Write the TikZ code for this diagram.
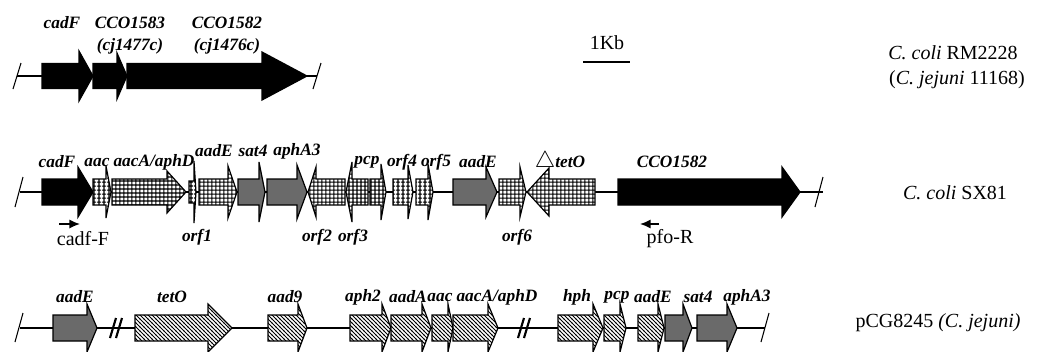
\documentclass[tikz,border=0pt]{standalone}
\usepackage{fontspec}
\setmainfont{Liberation Serif}
\usetikzlibrary{patterns.meta,arrows.meta}
\definecolor{ggray}{RGB}{106,106,106}
\tikzdeclarepattern{
  name=cgrid,
  type=uncolored,
  bounding box={(0pt,0pt) and (3.3pt,3.3pt)},
  tile size={(3.3pt,3.3pt)},
  code={\draw[line width=0.9pt] (0pt,1.65pt) -- (3.3pt,1.65pt) (1.65pt,0pt) -- (1.65pt,3.3pt);}
}
\tikzdeclarepattern{
  name=chatch,
  type=uncolored,
  bounding box={(-0.5pt,-0.5pt) and (3.5pt,3.5pt)},
  tile size={(3pt,3pt)},
  code={\draw[line width=0.75pt] (-0.5pt,3.5pt) -- (3.5pt,-0.5pt);}
}
% x0, head base, tip, y, body half-height, head half-height, style
\newcommand{\gene}[7]{%
  \draw[#7] (#1,{#4-#5}) -- (#2,{#4-#5}) -- (#2,{#4-#6}) -- (#3,#4) -- (#2,{#4+#6}) -- (#2,{#4+#5}) -- (#1,{#4+#5}) -- cycle;}
\begin{document}
\begin{tikzpicture}[x=0.75pt,y=-0.75pt,
  bb/.style={line width=1.7pt},
  cut/.style={line width=0.8pt},
  brk/.style={line width=1.6pt},
  gk/.style={draw=black,fill=black,line width=0.9pt},
  gg/.style={draw=black,fill=ggray,line width=0.9pt},
  gx/.style={draw=black,line width=0.9pt,preaction={fill=white},pattern={cgrid},pattern color=black},
  gh/.style={draw=black,line width=0.9pt,preaction={fill=white},pattern={chatch},pattern color=black},
  lab/.style={font=\fontsize{13}{15}\selectfont\bfseries\itshape,inner sep=0pt},
  txt/.style={font=\fontsize{15}{18}\selectfont,inner sep=0pt},
  prm/.style={line width=1.2pt,-{Latex[length=8pt,width=7pt]}}
]
\useasboundingbox (0,0) rectangle (1038,351);

% ---------------- Row 1: C. coli RM2228 ----------------
\coordinate (r1a) at (17,76);
\coordinate (r1b) at (317,76);
\draw[bb] (r1a) -- (r1b);
\draw[cut] (13,89) -- (21,63);
\draw[cut] (313,89) -- (321,63);
\gene{42}{79}{93}{76}{12.5}{25}{gk}
\gene{93}{117}{127}{76}{12.5}{23}{gk}
\gene{127}{262}{307}{76}{12.5}{24}{gk}
\node[lab] (l1a) at (62,23) {cadF};
\node[lab] (l1b) at (130,23) {CCO1583};
\node[lab] (l1c) at (130,46) {(\textit{cj1477c})};
\node[lab] (l1d) at (227,23) {CCO1582};
\node[lab] (l1e) at (227,46) {(\textit{cj1476c})};

% scale bar
\coordinate (sba) at (583,62);
\coordinate (sbb) at (630,62);
\draw[line width=2.2pt] (sba) -- (sbb);
\node[txt] (kb) at (607,43) {1Kb};

\node[txt] (s1a) at (953,53) {\textit{C. coli} RM2228};
\node[txt] (s1b) at (957,80) {(\textit{C. jejuni} 11168)};

% ---------------- Row 2: C. coli SX81 ----------------
\coordinate (r2a) at (20,192);
\coordinate (r2b) at (823,192);
\draw[bb] (r2a) -- (r2b);
\draw[cut] (15,207) -- (23,177);
\draw[cut] (815,207) -- (823,177);
\gene{42}{78}{93}{192}{13}{25}{gk}
\gene{93}{106}{111}{192}{13}{26}{gx}
\gene{112}{167}{186}{192}{13}{21}{gx}
\gene{189}{194}{196}{192}{11}{31}{gx}
\gene{199}{228}{237}{192}{13}{26}{gx}
\gene{238}{259}{265}{192}{13}{30}{gg}
\gene{267}{297}{307}{192}{13}{27}{gg}
\gene{345}{316}{308}{192}{13}{25}{gx}
\gene{368}{352}{346}{192}{13}{30}{gx}
\gene{370}{381}{386}{192}{13}{28}{gx}
\gene{393}{408}{413}{192}{13}{27}{gx}
\gene{416}{428}{433}{192}{13}{28}{gx}
\gene{453}{486}{497}{192}{13}{25}{gg}
\gene{499}{520}{526}{192}{13}{25}{gx}
\gene{595}{549}{527}{192}{13}{24}{gx}
\gene{618}{782}{800}{192}{13}{25}{gk}

\node[lab] (l2a) at (57,162) {cadF};
\node[lab] (l2b) at (97,162) {aac};
\node[lab] (l2c) at (154,162) {aacA/aphD};
\node[lab] (l2d) at (214,151) {aadE};
\node[lab] (l2e) at (253,151) {sat4};
\node[lab] (l2f) at (297,151) {aphA3};
\node[lab] (l2g) at (367,162) {pcp};
\node[lab] (l2h) at (402,162) {orf4};
\node[lab] (l2i) at (436,162) {orf5};
\node[lab] (l2j) at (478,162) {aadE};
\node[lab] (l2k) at (560,162) {{\normalfont\fontsize{16}{18}\selectfont$\triangle$}tetO};
\node[lab] (l2l) at (672,162) {CCO1582};
\node[lab] (l2m) at (197,237) {orf1};
\node[lab] (l2n) at (317,237) {orf2};
\node[lab] (l2o) at (353,237) {orf3};
\node[lab] (l2p) at (517,237) {orf6};

\coordinate (pfa) at (59,224);
\coordinate (pfb) at (80,224);
\draw[prm] (pfa) -- (pfb);
\node[txt] (cf) at (83,239) {cadf-F};
\coordinate (pra) at (659,224);
\coordinate (prb) at (640,224);
\draw[prm] (pra) -- (prb);
\node[txt] (pr) at (670,239) {pfo-R};

\node[txt] (s2) at (955,193) {\textit{C. coli} SX81};

% ---------------- Row 3: pCG8245 ----------------
\coordinate (r3a) at (20,328);
\coordinate (r3b) at (765,328);
\draw[bb] (r3a) -- (r3b);
\draw[cut] (15,342) -- (23,313);
\draw[cut] (761,342) -- (769,313);
\draw[brk] (110,338) -- (116,318);
\draw[brk] (116,338) -- (122,318);
\draw[brk] (518,338) -- (524,318);
\draw[brk] (524,338) -- (530,318);
\gene{53}{87}{97}{328}{13}{24}{gg}
\gene{135}{208}{232}{328}{13}{24}{gh}
\gene{268}{298}{307}{328}{13}{24}{gh}
\gene{350}{382}{391}{328}{13}{24}{gh}
\gene{391}{422}{431}{328}{13}{24}{gh}
\gene{432}{448}{453}{328}{13}{24}{gh}
\gene{453}{488}{498}{328}{13}{24}{gh}
\gene{558}{593}{603}{328}{13}{24}{gh}
\gene{604}{620}{626}{328}{13}{24}{gh}
\gene{638}{658}{664}{328}{13}{24}{gh}
\gene{665}{683}{692}{328}{13}{24}{gg}
\gene{697}{727}{737}{328}{13}{24}{gg}

\node[lab] (l3a) at (75,297) {aadE};
\node[lab] (l3b) at (172,297) {tetO};
\node[lab] (l3c) at (285,297) {aad9};
\node[lab] (l3d) at (363,297) {aph2};
\node[lab] (l3e) at (408,297) {aadA};
\node[lab] (l3f) at (440,297) {aac};
\node[lab] (l3g) at (497,297) {aacA/aphD};
\node[lab] (l3h) at (577,297) {hph};
\node[lab] (l3i) at (617,297) {pcp};
\node[lab] (l3j) at (653,297) {aadE};
\node[lab] (l3k) at (698,297) {sat4};
\node[lab] (l3l) at (747,297) {aphA3};

\node[txt] (s3) at (938,323) {pCG8245 \textit{(C. jejuni)}};
\end{tikzpicture}
\end{document}
